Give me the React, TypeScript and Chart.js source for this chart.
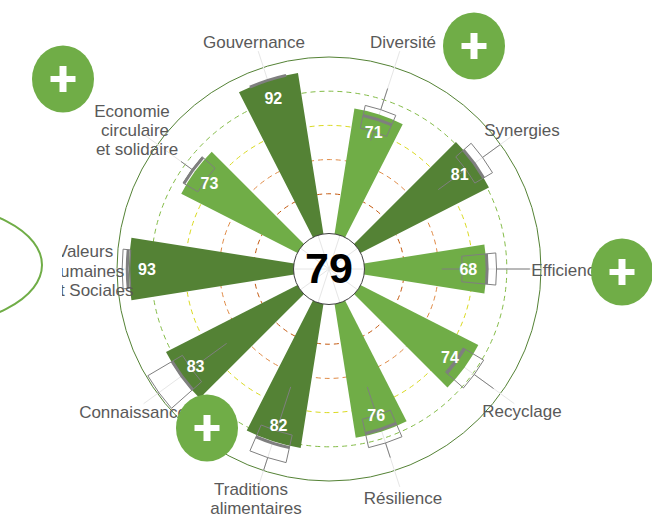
import React, { useEffect, useRef } from "react";
import { Chart, registerables } from "chart.js";

Chart.register(...registerables);

const categories = ["Diversité", "Synergies", "Efficience", "Recyclage", "Résilience", "Traditions alimentaires", "Connaissance", "Valeurs Humaines et Sociales", "Economie circulaire et solidaire", "Gouvernance"];
const scores = [71, 81, 68, 74, 76, 82, 83, 93, 73, 92];
const overallScore = 79;
const medians = [68, 81, 68.5, 68, 74.5, 83, 82.5, 94, 74.5, 92];
const quartile1 = [60.5, 75, 54, 67, 66, 75.5, 75.5, 92.5, 65, 92];
const quartile3 = [74, 87, 74, 81, 83, 92, 99, 97, 75, 92];
const whiskerLow = [55, 55, 42, 67, 48.5, 48.5, 50, 92.5, 65, 92];
const whiskerHigh = [87, 100, 93.5, 95, 92, 100, 100, 97, 83, 92];
const gridValues = [20, 40, 60, 80, 100];
const gridColors = ["#C55A11", "#E08A45", "#DADA20", "#84BC48", "#548235"];

const SCALE_MIN = -24;
const darkGreen = "#548235";
const lightGreen = "#70AD47";
const boxGray = "#7F7F7F";
const textGray = "#595959";
const labelFont = '17px "Liberation Sans", Arial, sans-serif';

const labelLayout: { x: number; y: number; t: string }[][] = [
  [{ x: 403, y: 43, t: "Diversité" }],
  [{ x: 522, y: 131, t: "Synergies" }],
  [{ x: 568, y: 271, t: "Efficience" }],
  [{ x: 522, y: 412, t: "Recyclage" }],
  [{ x: 403, y: 499, t: "Résilience" }],
  [{ x: 251, y: 490, t: "Traditions" }, { x: 256, y: 509, t: "alimentaires" }],
  [{ x: 133, y: 413, t: "Connaissance" }],
  [{ x: 85, y: 252, t: "Valeurs" }, { x: 86, y: 272, t: "Humaines" }, { x: 92, y: 291, t: "et Sociales" }],
  [{ x: 132, y: 112, t: "Economie" }, { x: 135, y: 131, t: "circulaire" }, { x: 137, y: 150, t: "et solidaire" }],
  [{ x: 254, y: 43, t: "Gouvernance" }],
];
const bubbles = [
  { x: 63, y: 79 },
  { x: 474, y: 46 },
  { x: 622, y: 272 },
  { x: 207, y: 428 },
];

const overlayPlugin = {
  id: "overlay",
  beforeDatasetsDraw(chart: any) {
    const s = chart.scales.r;
    const ctx = chart.ctx;
    ctx.save();
    ctx.strokeStyle = "#E6E6E6";
    ctx.lineWidth = 1;
    categories.forEach((_, i) => {
      const a = s.getIndexAngle(2 * i + 0.5) - Math.PI / 2;
      const r = s.getDistanceFromCenterForValue(110);
      ctx.beginPath();
      ctx.moveTo(s.xCenter, s.yCenter);
      ctx.lineTo(s.xCenter + r * Math.cos(a), s.yCenter + r * Math.sin(a));
      ctx.stroke();
    });
    ctx.restore();
  },
  afterDatasetsDraw(chart: any) {
    const s = chart.scales.r;
    const ctx = chart.ctx;
    const cx = s.xCenter;
    const cy = s.yCenter;
    const half = (5.5 * Math.PI) / 180;
    const R = (v: number) => s.getDistanceFromCenterForValue(v);
    ctx.save();

    // box plots
    categories.forEach((_, i) => {
      const a = s.getIndexAngle(2 * i + 0.5) - Math.PI / 2;
      ctx.strokeStyle = boxGray;
      ctx.lineWidth = 1;
      ctx.beginPath();
      ctx.arc(cx, cy, R(quartile3[i]), a - half, a + half);
      ctx.arc(cx, cy, R(quartile1[i]), a + half, a - half, true);
      ctx.closePath();
      ctx.stroke();
      ctx.beginPath();
      ctx.moveTo(cx + R(whiskerLow[i]) * Math.cos(a), cy + R(whiskerLow[i]) * Math.sin(a));
      ctx.lineTo(cx + R(quartile1[i]) * Math.cos(a), cy + R(quartile1[i]) * Math.sin(a));
      ctx.moveTo(cx + R(quartile3[i]) * Math.cos(a), cy + R(quartile3[i]) * Math.sin(a));
      ctx.lineTo(cx + R(whiskerHigh[i]) * Math.cos(a), cy + R(whiskerHigh[i]) * Math.sin(a));
      ctx.stroke();
      ctx.lineWidth = 3;
      ctx.beginPath();
      ctx.arc(cx, cy, R(medians[i]), a - half, a + half);
      ctx.stroke();
    });

    // value labels
    ctx.fillStyle = "#FFFFFF";
    ctx.font = 'bold 16px "Liberation Sans", Arial, sans-serif';
    ctx.textAlign = "center";
    ctx.textBaseline = "middle";
    scores.forEach((v, i) => {
      const a = s.getIndexAngle(2 * i + 0.5) - Math.PI / 2;
      const r = R(v) - 18;
      ctx.fillText(String(v), cx + r * Math.cos(a), cy + r * Math.sin(a) + 2);
    });

    // centre disc
    ctx.beginPath();
    ctx.arc(cx, cy, 35.5, 0, Math.PI * 2);
    ctx.fillStyle = "#FFFFFF";
    ctx.fill();
    ctx.strokeStyle = "#E6E6E6";
    ctx.lineWidth = 1;
    categories.forEach((_, i) => {
      const a = s.getIndexAngle(2 * i + 0.5) - Math.PI / 2;
      ctx.beginPath();
      ctx.moveTo(cx, cy);
      ctx.lineTo(cx + 35 * Math.cos(a), cy + 35 * Math.sin(a));
      ctx.stroke();
    });
    ctx.beginPath();
    ctx.arc(cx, cy, 35.5, 0, Math.PI * 2);
    ctx.strokeStyle = "#404040";
    ctx.stroke();
    ctx.fillStyle = "#000000";
    ctx.font = 'bold 43px "Liberation Sans", Arial, sans-serif';
    ctx.fillText(String(overallScore), cx, cy + 2);

    // category labels
    ctx.fillStyle = textGray;
    ctx.font = labelFont;
    labelLayout.forEach((lines) => {
      lines.forEach((l) => {
        ctx.save();
        ctx.beginPath();
        ctx.rect(62, 0, 652, 525);
        ctx.clip();
        ctx.fillText(l.t, l.x, l.y);
        ctx.restore();
      });
    });

    // decorative bubbles
    bubbles.forEach((b) => {
      ctx.fillStyle = lightGreen;
      ctx.beginPath();
      ctx.ellipse(b.x, b.y, 31, 33.5, 0, 0, Math.PI * 2);
      ctx.fill();
      ctx.fillStyle = "#FFFFFF";
      ctx.fillRect(b.x - 12.5, b.y - 3, 25, 6);
      ctx.fillRect(b.x - 3.5, b.y - 13, 7, 26);
    });
    ctx.strokeStyle = lightGreen;
    ctx.lineWidth = 2;
    ctx.beginPath();
    ctx.ellipse(-80, 265, 122, 62, 0, 0, Math.PI * 2);
    ctx.stroke();
    ctx.restore();
  },
};

export default function App() {
  const ref = useRef<HTMLCanvasElement | null>(null);
  useEffect(() => {
    if (!ref.current) return;
    ref.current.getContext("2d", { alpha: false });
    const labels = categories.flatMap((c) => [c, ""]);
    const data = scores.flatMap((v) => [v, SCALE_MIN]);
    const colors = scores.flatMap((v) => [v >= 80 ? darkGreen : lightGreen, "rgba(0,0,0,0)"]);
    const chart = new Chart(ref.current, {
      type: "polarArea",
      data: { labels, datasets: [{ data, backgroundColor: colors, borderWidth: 0 }] },
      options: {
        responsive: false,
        animation: false,
        layout: { padding: { left: 117, right: 111, top: 57, bottom: 44 } },
        plugins: { legend: { display: false }, tooltip: { enabled: false } },
        scales: {
          r: {
            min: SCALE_MIN,
            max: 100,
            startAngle: 9,
            ticks: { display: false },
            afterBuildTicks: (s: any) => {
              s.ticks = gridValues.map((value) => ({ value }));
            },
            grid: {
              circular: true,
              lineWidth: 1,
              color: (c: any) => gridColors[gridValues.indexOf(c.tick?.value)] ?? "rgba(0,0,0,0)",
            },
            border: {
              dash: (c: any) => (c.tick?.value === 100 ? [] : [5, 4]),
            },
          },
        },
      } as any,
      plugins: [
        {
          id: "whiteBackground",
          beforeDraw(c: any) {
            c.ctx.save();
            c.ctx.fillStyle = "#FFFFFF";
            c.ctx.fillRect(0, 0, c.width, c.height);
            c.ctx.restore();
          },
        },
        overlayPlugin,
      ],
    } as any);
    return () => chart.destroy();
  }, []);
  return (
    <div style={{ position: "absolute", left: 0, top: 0, width: 652, height: 525, overflow: "hidden", background: "#fff" }}>
      <canvas ref={ref} width={652} height={525} style={{ display: "block" }} />
    </div>
  );
}
